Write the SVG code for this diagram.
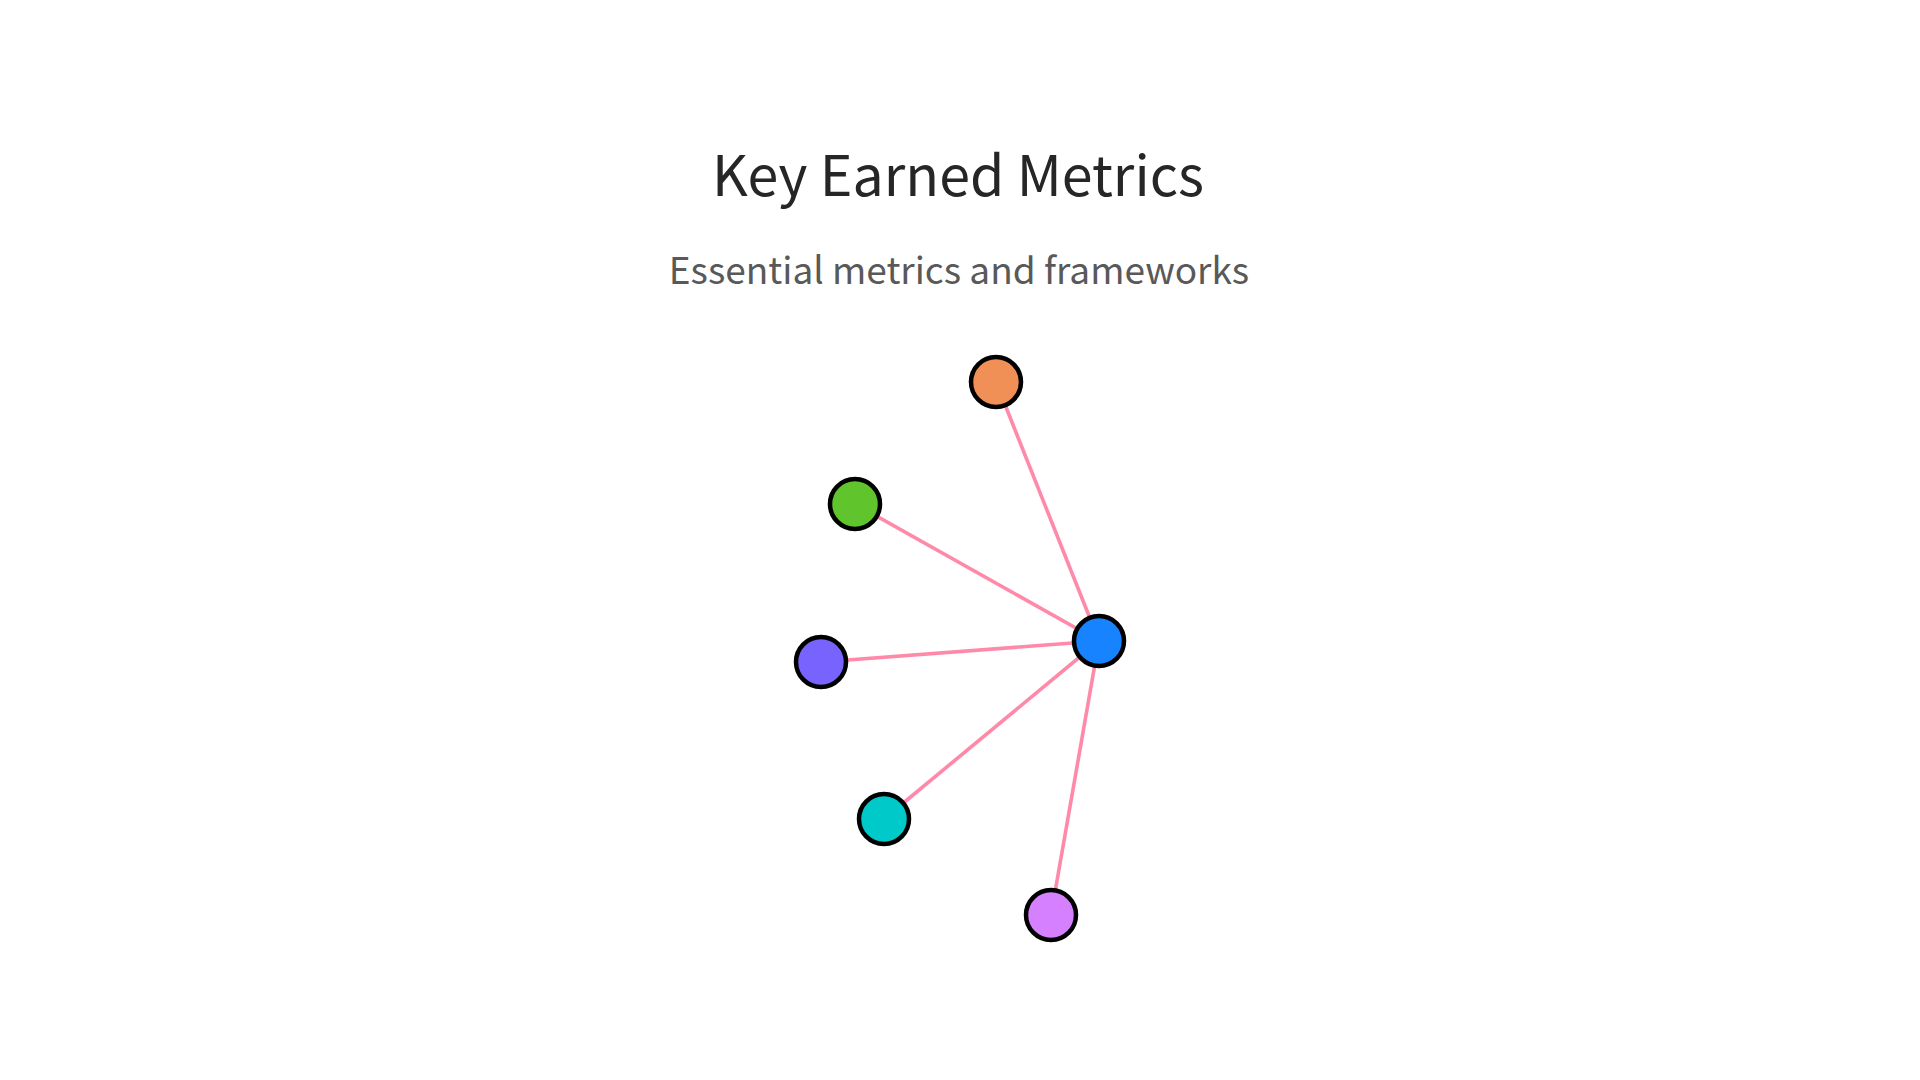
<svg xmlns="http://www.w3.org/2000/svg" width="1920" height="1080" viewBox="0 0 1920 1080">
<style>
.title{font-family:"Noto Sans CJK SC","Noto Sans",sans-serif;font-size:55.5px;fill:#262626;text-anchor:middle}
.sub{font-family:"Noto Sans CJK SC","Noto Sans",sans-serif;font-size:37px;fill:#595959;text-anchor:middle}
.edge{stroke:#FF89A9;stroke-width:3.6;fill:none}
.node{stroke:#000;stroke-width:4.5}
</style>
<rect width="1920" height="1080" fill="#fff"/>
<text class="title" x="958" y="196">Key Earned Metrics</text>
<text class="sub" x="959" y="284">Essential metrics and frameworks</text>
<g id="edges">
<line class="edge" x1="1099" y1="641" x2="996" y2="382"/>
<line class="edge" x1="1099" y1="641" x2="855" y2="504"/>
<line class="edge" x1="1099" y1="641" x2="821" y2="662"/>
<line class="edge" x1="1099" y1="641" x2="884" y2="819"/>
<line class="edge" x1="1099" y1="641" x2="1051" y2="915"/>
</g>
<g id="node-orange"><circle class="node" cx="996" cy="382" r="25" fill="#F08F56"/></g>
<g id="node-green"><circle class="node" cx="855" cy="504" r="25" fill="#60C42D"/></g>
<g id="node-purple"><circle class="node" cx="821" cy="662" r="25" fill="#7863FF"/></g>
<g id="node-teal"><circle class="node" cx="884" cy="819" r="25" fill="#00C9C9"/></g>
<g id="node-violet"><circle class="node" cx="1051" cy="915" r="25" fill="#D580FF"/></g>
<g id="node-center"><circle class="node" cx="1099" cy="641" r="25" fill="#1783FF"/></g>
</svg>
